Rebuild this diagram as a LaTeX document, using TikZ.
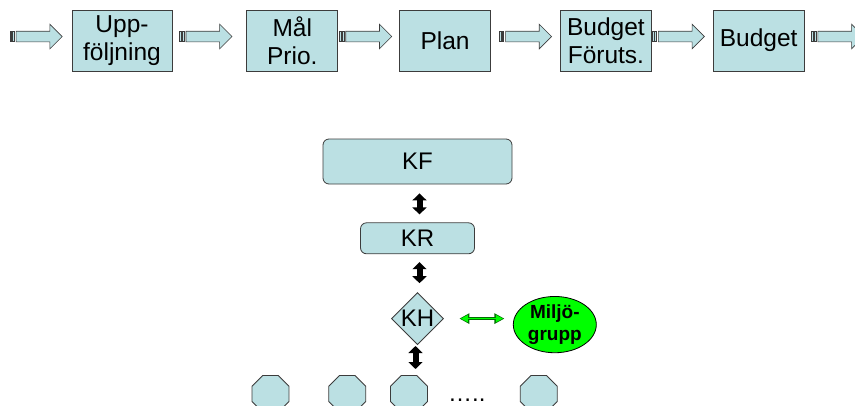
\documentclass[tikz,border=0pt]{standalone}
\usepackage{fontspec}
\setmainfont{Liberation Sans}
\usepackage{tikz}
\usepackage{xcolor}
\usetikzlibrary{arrows.meta, positioning}
\usetikzlibrary{shapes.geometric, shapes.arrows}
\definecolor{paleblue}{RGB}{187,224,227}
\definecolor{edgegray}{RGB}{60,60,60}
\definecolor{miljogreen}{RGB}{0,255,0}
\definecolor{miljoedge}{RGB}{0,110,0}
\tikzstyle{stage} = [rectangle, minimum width=91pt, minimum height=61pt, inner sep=0pt, align=center, draw=edgegray, line width=0.8pt, fill=paleblue, font=\fontsize{24.5}{28}\selectfont]
\tikzstyle{flow} = [single arrow, minimum height=46pt, inner xsep=0pt, inner ysep=5pt, single arrow head extend=7pt, single arrow tip angle=90, draw=edgegray, line width=0.6pt, fill=paleblue]
\tikzstyle{stripe} = [draw=edgegray, line width=0.5pt, fill=paleblue]
\tikzstyle{council} = [rectangle, rounded corners=6pt, inner sep=0pt, draw=edgegray, line width=0.8pt, fill=paleblue, font=\fontsize{24}{28}\selectfont]
\tikzstyle{office} = [diamond, aspect=1, minimum width=52pt, minimum height=52pt, inner sep=0pt, draw=edgegray, line width=0.8pt, fill=paleblue, font=\fontsize{24}{28}\selectfont]
\tikzstyle{unit} = [regular polygon, regular polygon sides=8, minimum size=40pt, inner sep=0pt, draw=edgegray, line width=0.8pt, fill=paleblue]
\tikzstyle{envgroup} = [ellipse, minimum width=83pt, minimum height=56pt, inner sep=0pt, align=center, draw=black, line width=0.8pt, fill=miljogreen, font=\fontsize{19}{22}\selectfont\bfseries]
\tikzstyle{updown} = [line width=6pt, {Triangle[width=14pt,length=7pt]}-{Triangle[width=14pt,length=7pt]}]
\tikzstyle{greenedge} = [line width=3pt, draw=miljoedge, {Triangle[width=10pt,length=10pt]}-{Triangle[width=10pt,length=10pt]}]
\tikzstyle{greenlink} = [line width=1.4pt, draw=miljogreen, {Triangle[width=7pt,length=7pt]}-{Triangle[width=7pt,length=7pt]}]

\begin{document}
\begin{tikzpicture}[node distance=8pt]
\useasboundingbox (0,0) rectangle (855pt,-405pt);

% Process row
\node (upp) [stage, minimum width=100pt] at (122pt,-40.5pt) {Upp-\\följning};
\node (mal) [stage, right=74pt of upp] {Mål\\Prio.};
\node (plan) [stage, right=61pt of mal] {Plan};
\node (bf) [stage, right=69pt of plan] {Budget\\Föruts.};
\node (bud) [stage, right=61pt of bf] {Budget};

% Block arrows
\node (toupp) [flow, left=9pt of upp, yshift=4pt] {};
\node (tomal) [flow, left=14pt of mal, yshift=4pt] {};
\node (toplan) [flow, left=7pt of plan, yshift=4pt] {};
\node (tobf) [flow, left=8pt of bf, yshift=4pt] {};
\node (tobud) [flow, left=8pt of bud, yshift=4pt] {};
\node (out) [flow, right=13pt of bud, yshift=4pt] {};
\foreach \f in {toupp,tomal,toplan,tobf,tobud,out} {
  \draw [stripe] ([xshift=-6pt,yshift=-5pt]\f.tail) rectangle ++(1.8pt,10pt);
  \draw [stripe] ([xshift=-3.4pt,yshift=-5pt]\f.tail) rectangle ++(1.8pt,10pt);
}

% Organisation
\node (kf) [council, minimum width=189pt, minimum height=45pt] at (417.5pt,-161.5pt) {KF};
\node (kr) [council, minimum width=114pt, minimum height=31pt, below=38pt of kf] {KR};
\node (kh) [office, below=38pt of kr] {KH};
\node (miljo) [envgroup, right=69pt of kh, yshift=-6pt] {Miljö-\\grupp};
\node (u3) [unit, below=30pt of kh, xshift=-8.5pt] {};
\node (u2) [unit, left=24pt of u3] {};
\node (u1) [unit, left=39pt of u2] {};
\node (u4) [unit, right=92pt of u3] {};
\node (more) [right=20pt of u3, yshift=-6pt, inner sep=0pt, font=\fontsize{24}{28}\selectfont] {…..};

% Arrows
\draw [updown, shorten <=9pt, shorten >=8pt] ([xshift=2pt]kf.south) -- ([xshift=2pt]kr.north);
\draw [updown, shorten <=8pt, shorten >=9pt] ([xshift=2pt]kr.south) -- ([xshift=2pt]kh.north);
\draw [updown, shorten <=1pt, shorten >=6pt] ([xshift=-2pt]kh.south) -- ([xshift=-2pt]kh.south |- u3.north);
\draw [greenedge, shorten <=15.5pt, shorten >=8.5pt] (kh.east) -- (kh.east -| miljo.west);
\draw [greenlink, shorten <=17pt, shorten >=10pt] (kh.east) -- (kh.east -| miljo.west);

\end{tikzpicture}
\end{document}
